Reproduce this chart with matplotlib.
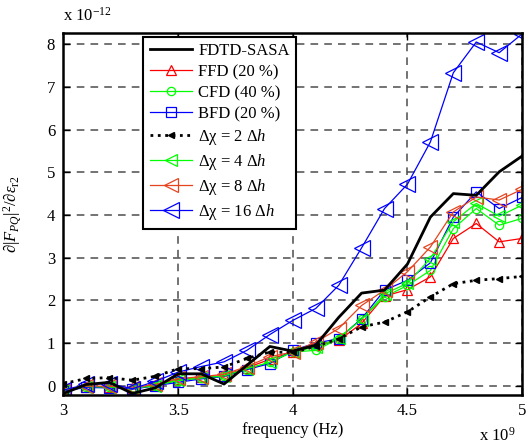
import matplotlib
matplotlib.use('Agg')
import matplotlib.pyplot as plt

plt.rcParams['font.family'] = ['Liberation Serif', 'DejaVu Serif']
plt.rcParams['mathtext.fontset'] = 'custom'
plt.rcParams['mathtext.rm'] = 'Liberation Serif'
plt.rcParams['mathtext.it'] = 'Liberation Serif:italic'
plt.rcParams['font.size'] = 12

# frequency in units of 1e9 Hz, sensitivities in units of 1e-12
freq = [3.0, 3.1, 3.2, 3.3, 3.4, 3.5, 3.6, 3.7, 3.8, 3.9, 4.0,
        4.1, 4.2, 4.3, 4.4, 4.5, 4.6, 4.7, 4.8, 4.9, 5.0]

fdtd_sasa = [-0.18, 0.03, 0.08, -0.18, -0.05, 0.28, 0.28, 0.04, 0.48, 0.92, 0.81,
             0.95, 1.60, 2.17, 2.24, 2.85, 3.95, 4.50, 4.46, 5.01, 5.38]
ffd = [-0.10, -0.02, -0.02, -0.06, 0.02, 0.15, 0.20, 0.24, 0.42, 0.62, 0.79,
       0.95, 1.06, 1.46, 2.10, 2.25, 2.55, 3.45, 3.80, 3.37, 3.45]
cfd = [-0.10, -0.03, -0.03, -0.07, 0.00, 0.12, 0.18, 0.22, 0.38, 0.55, 0.79,
       0.83, 1.10, 1.57, 2.08, 2.35, 2.70, 3.68, 4.15, 3.76, 3.92]
bfd = [-0.12, -0.04, -0.05, -0.08, 0.00, 0.08, 0.16, 0.22, 0.38, 0.52, 0.83,
       1.00, 1.10, 1.57, 2.24, 2.47, 2.88, 3.95, 4.54, 4.15, 4.41]
dchi2 = [0.05, 0.17, 0.19, 0.13, 0.22, 0.40, 0.40, 0.44, 0.64, 0.79, 0.78,
         0.92, 1.10, 1.38, 1.49, 1.73, 2.08, 2.39, 2.47, 2.51, 2.56]
dchi4 = [-0.10, -0.02, -0.03, -0.06, 0.00, 0.13, 0.18, 0.23, 0.40, 0.55, 0.80,
         0.90, 1.12, 1.55, 2.15, 2.40, 2.98, 3.84, 4.27, 3.97, 4.23]
dchi8 = [-0.10, -0.01, -0.01, -0.05, 0.03, 0.17, 0.21, 0.27, 0.45, 0.68, 0.79,
         1.02, 1.34, 1.88, 2.24, 2.67, 3.25, 4.07, 4.42, 4.35, 4.60]
dchi16 = [-0.10, 0.03, 0.05, -0.07, 0.10, 0.32, 0.45, 0.56, 0.83, 1.20, 1.53,
          1.81, 2.35, 3.23, 4.15, 4.72, 5.71, 7.33, 8.05, 7.80, 8.24]

xticks = [3, 3.5, 4, 4.5, 5]
xticklabels = ['3', '3.5', '4', '4.5', '5']
yticks = [0, 1, 2, 3, 4, 5, 6, 7, 8]

fig = plt.figure(figsize=(5.29, 4.47), dpi=100)
ax = fig.add_axes([0.120, 0.116, 0.867, 0.811])

orange = '#E5441F'
ax.plot(freq, fdtd_sasa, color='k', lw=2.0, label='FDTD-SASA', zorder=3)
ax.plot(freq, ffd, color='r', lw=0.9, marker='^', ms=7, mfc='none', mew=0.9,
        label='FFD (20 %)')
ax.plot(freq, cfd, color='#00FF00', lw=0.9, marker='o', ms=6, mfc='none', mew=0.9,
        label='CFD (40 %)')
ax.plot(freq, bfd, color='b', lw=0.9, marker='s', ms=6.5, mfc='none', mew=0.9,
        label='BFD (20 %)')
ax.plot(freq, dchi2, color='k', lw=2.0, ls=':', marker='<', ms=4.5,
        label='Δχ = 2 Δ$h$', zorder=3)
ax.plot(freq, dchi4, color='#00FF00', lw=0.9, marker='<', ms=8, mfc='none', mew=0.9,
        label='Δχ = 4 Δ$h$')
ax.plot(freq, dchi8, color=orange, lw=0.9, marker='<', ms=10, mfc='none', mew=0.9,
        label='Δχ = 8 Δ$h$')
ax.plot(freq, dchi16, color='b', lw=0.9, marker='<', ms=12, mfc='none', mew=0.9,
        label='Δχ = 16 Δ$h$')

ax.set_xlim(3, 5)
ax.set_ylim(-0.22, 8.27)
ax.set_xticks(xticks)
ax.set_xticklabels(xticklabels)
ax.set_yticks(yticks)
ax.tick_params(direction='in', length=5, width=1, top=True, right=True,
               labelsize=12, pad=6)
ax.grid(True, color='0.3', ls=(0, (5, 4)), lw=1.1)
for s in ax.spines.values():
    s.set_linewidth(1.8)

ax.set_xlabel('frequency (Hz)', fontsize=12, labelpad=2)
ax.set_ylabel(r'$\partial|F_{PQ}|^{2}/\partial\varepsilon_{\mathrm{r2}}$',
              fontsize=12, labelpad=4)
ax.yaxis.set_label_coords(-0.085, 0.5)
fig.text(0.120, 0.945, r'x 10$^{\mathrm{-12}}$', fontsize=12, ha='left', va='bottom')
fig.text(0.905, 0.005, r'x 10$^{\mathrm{9}}$', fontsize=12, ha='left', va='bottom')

leg = ax.legend(loc='upper left', bbox_to_anchor=(0.174, 0.989), borderaxespad=0,
                fontsize=12, handlelength=2.5, labelspacing=0.3, handletextpad=0.4,
                borderpad=0.4, fancybox=False, framealpha=1, edgecolor='k')
leg.get_frame().set_linewidth(1.5)

fig.savefig('out.png', dpi=100)
